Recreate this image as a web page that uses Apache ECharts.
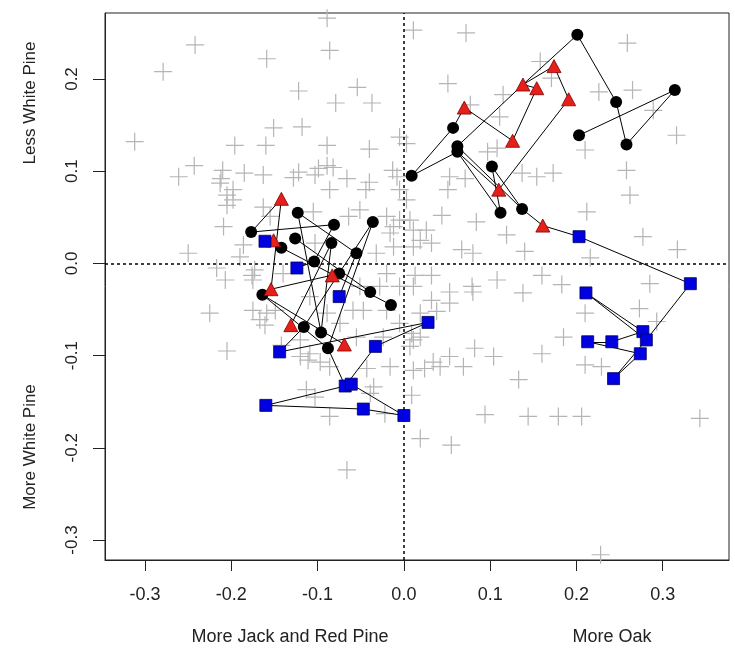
<!DOCTYPE html>
<html>
<head>
<meta charset="utf-8">
<script src="https://cdn.jsdelivr.net/npm/echarts@6/dist/echarts.min.js"></script>
<style>html,body{margin:0;padding:0;background:#fff}#chart{width:735px;height:650px}</style>
</head>
<body>
<div id="chart"></div>
<script>
// tick values
const xTicks = [-0.3, -0.2, -0.1, 0, 0.1, 0.2, 0.3];
const yTicks = [-0.3, -0.2, -0.1, 0, 0.1, 0.2];

// grey background plots
const crossPts = [
  [-0.089,0.266],[-0.242,0.237],[-0.159,0.222],[-0.086,0.231],[-0.279,0.208],[-0.122,0.187],
  [-0.054,0.191],[-0.079,0.174],[-0.037,0.174],[-0.151,0.147],[-0.118,0.148],[-0.312,0.132],
  [-0.196,0.128],[-0.160,0.128],[-0.089,0.128],[-0.040,0.124],[-0.005,0.137],[-0.243,0.106],
  [-0.261,0.094],[-0.210,0.101],[-0.212,0.092],[-0.185,0.098],[-0.163,0.096],[-0.122,0.099],
  [-0.128,0.093],[-0.099,0.103],[-0.089,0.106],[-0.082,0.104],[-0.103,0.096],[-0.066,0.092],
  [-0.040,0.088],[-0.013,0.101],[-0.008,0.094],[-0.086,0.080],[-0.044,0.080],[-0.005,0.080],
  [-0.198,0.069],[-0.205,0.063],[-0.209,0.040],[-0.163,0.061],[-0.155,0.051],[-0.105,0.056],
  [-0.064,0.051],[-0.051,0.058],[-0.020,0.051],[-0.005,0.047],[-0.186,0.020],[-0.250,0.011],
  [-0.217,-0.005],[-0.173,-0.007],[-0.016,0.033],[-0.012,0.018],[-0.032,0.011],[-0.103,0.022],
  [0.011,0.253],[0.072,0.250],[0.259,0.239],[0.158,0.219],[0.051,0.195],[0.115,0.183],
  [0.171,0.201],[0.226,0.186],[0.265,0.188],[0.289,0.166],[0.077,0.172],[0.316,0.139],
  [0.111,0.159],[0.003,0.130],[0.108,0.125],[0.210,0.123],[0.097,0.121],[0.258,0.101],
  [0.053,0.094],[0.071,0.092],[0.051,0.080],[0.137,0.098],[0.154,0.094],[0.173,0.098],
  [0.262,0.074],[0.044,0.052],[0.084,0.045],[0.212,0.056],[0.119,0.031],[0.007,0.047],
  [0.019,0.025],[0.026,0.036],[0.032,0.022],[0.011,0.018],[0.067,0.015],[0.080,0.011],
  [0.140,0.013],[0.216,0.006],[0.277,0.029],[0.317,0.015],[0.013,-0.013],[0.032,-0.013],
  [0.053,-0.031],[0.079,-0.025],[0.080,-0.031],[0.108,-0.018],[0.138,-0.032],[0.160,-0.013],
  [0.183,-0.023],[0.285,-0.022],[0.032,-0.040],[0.053,-0.043],[0.038,-0.052],[0.019,-0.054],
  [0.210,-0.054],[0.273,-0.049],[0.293,-0.063],[0.011,-0.083],[0.007,-0.090],[0.185,-0.080],
  [0.082,-0.092],[0.104,-0.101],[0.160,-0.098],[0.053,-0.101],[0.034,-0.107],[0.042,-0.112],
  [0.011,-0.116],[0.024,-0.114],[0.069,-0.112],[0.210,-0.110],[0.229,-0.112],[0.133,-0.126],
  [0.009,-0.143],[0.094,-0.164],[0.144,-0.166],[0.179,-0.166],[0.206,-0.166],[0.343,-0.168],
  [0.019,-0.190],[0.055,-0.197],[0.228,-0.316],[-0.207,-0.018],[-0.225,-0.054],[-0.205,-0.095],
  [-0.176,-0.013],[-0.175,-0.051],[-0.159,-0.054],[-0.161,-0.067],[-0.142,-0.089],[-0.120,-0.101],
  [-0.111,-0.105],[-0.097,-0.107],[-0.086,-0.112],[-0.113,-0.137],[-0.103,-0.145],[-0.086,-0.166],
  [-0.035,-0.134],[-0.022,-0.163],[-0.043,-0.114],[-0.016,-0.112],[-0.059,-0.051],[-0.047,-0.051],
  [-0.074,-0.065],[0.009,-0.076],[-0.039,-0.141],[-0.120,-0.083],[-0.149,-0.051],[-0.089,-0.054],
  [-0.024,-0.080],[-0.066,-0.224],[-0.213,0.087],[-0.198,0.080],[-0.205,0.074],[-0.012,0.040],
  [0.011,0.036],[-0.190,0.007],[-0.175,-0.018],[0.003,0.069],[-0.020,-0.011],[-0.051,-0.025],
  [-0.028,-0.025],[-0.005,-0.025],[0.011,-0.025],[-0.020,-0.051],[-0.005,-0.065],[0.019,-0.080],
  [-0.167,-0.061],[-0.055,-0.080],[-0.109,-0.098],[-0.140,-0.011],[-0.109,-0.036]
];

// trajectory points by symbol
const blackPts = [
  [0.009,0.095],[0.057,0.147],[0.201,0.248],[0.062,0.121],[0.062,0.127],[0.102,0.105],
  [0.112,0.055],[0.137,0.059],[0.246,0.175],[0.258,0.129],[0.314,0.188],[0.203,0.139],
  [-0.123,0.055],[-0.177,0.034],[-0.081,0.042],[-0.036,0.045],[-0.142,0.017],[-0.126,0.027],
  [-0.084,0.022],[-0.055,0.011],[-0.104,0.002],[-0.075,-0.011],[-0.164,-0.034],[-0.039,-0.031],
  [-0.015,-0.045],[-0.116,-0.069],[-0.096,-0.075],[-0.088,-0.092]
];
const redPts = [
  [0.070,0.169],[0.126,0.133],[0.154,0.190],[0.138,0.194],[0.174,0.214],[0.191,0.178],
  [0.110,0.080],[0.161,0.041],[-0.142,0.070],[-0.151,0.025],[-0.083,-0.013],[-0.154,-0.028],
  [-0.131,-0.067],[-0.069,-0.088]
];
const bluePts = [
  [0.203,0.029],[0.332,-0.022],[0.211,-0.032],[0.277,-0.074],[0.281,-0.083],[0.213,-0.085],
  [0.241,-0.085],[0.274,-0.098],[0.243,-0.125],[0.028,-0.064],[0.000,-0.165],[-0.161,0.024],
  [-0.124,-0.005],[-0.075,-0.036],[-0.033,-0.090],[-0.144,-0.096],[-0.068,-0.133],[-0.061,-0.131],
  [-0.160,-0.154],[-0.047,-0.158]
];

// connecting segments (k = black, r = red, b = blue)
const segments = [
  ['k11','k10'],['k10','k9'],['k9','k8'],['k8','k2'],['k2','r3'],['r3','k4'],['k3','k0'],
  ['k0','k1'],['k1','r0'],['r0','r1'],['r1','r2'],['r2','r3'],['r3','r4'],['r4','r5'],
  ['r5','r6'],['r6','k3'],['k3','k6'],['k6','k5'],['k5','k7'],['k4','k7'],['k7','r7'],
  ['r7','b0'],['b0','b1'],['b1','b4'],['b4','b2'],['b2','b3'],['b3','b6'],['b6','b5'],
  ['b5','b7'],['b7','b8'],['b8','b4'],
  ['k14','k13'],['k13','r8'],['r8','r11'],['r11','k21'],['k22','k27'],['k22','r13'],
  ['k16','k24'],['k17','k23'],['k12','k19'],['k12','k26'],['k15','k27'],['k15','k25'],
  ['k14','k20'],['k18','k26'],['r12','k18'],['k25','b15'],['b12','k20'],['b13','k19'],
  ['b15','b9'],['b14','b9'],['b14','b16'],['b16','b18'],['b18','b19'],['b19','b10'],
  ['b17','b10'],['k27','b16']
];

function pt(ref) {
  const set = { k: blackPts, r: redPts, b: bluePts }[ref[0]];
  return set[+ref.slice(1)];
}

const chart = echarts.init(document.getElementById('chart'));
const fontFam = 'Liberation Sans, Arial, sans-serif';

chart.setOption({
  animation: false,
  grid: {
    left: 105, right: 6, top: 13, bottom: 90,
    show: true, borderColor: '#222', borderWidth: 1,
    containLabel: false
  },
  xAxis: {
    type: 'value', min: -0.3464, max: 0.3768,
    axisLine: { show: true, onZero: false, lineStyle: { color: '#222' } },
    axisTick: { show: true, length: 11, customValues: xTicks, lineStyle: { color: '#222' } },
    axisLabel: { customValues: xTicks, formatter: v => v.toFixed(1), margin: 26,
      fontSize: 18, color: '#222', fontFamily: fontFam },
    splitLine: { show: false }
  },
  yAxis: {
    type: 'value', min: -0.3217, max: 0.2716,
    axisLine: { show: true, onZero: false, lineStyle: { color: '#222' } },
    axisTick: { show: true, length: 12, customValues: yTicks, lineStyle: { color: '#222' } },
    axisLabel: { customValues: yTicks, formatter: v => v.toFixed(1), margin: 24, rotate: 90,
      fontSize: 17, color: '#222', fontFamily: fontFam },
    splitLine: { show: false }
  },
  graphic: [
    { type: 'text', x: 30, y: 103, rotation: Math.PI / 2,
      style: { text: 'Less White Pine', textAlign: 'center', textVerticalAlign: 'middle',
        font: '17px ' + fontFam, fill: '#222' } },
    { type: 'text', x: 30, y: 447, rotation: Math.PI / 2,
      style: { text: 'More White Pine', textAlign: 'center', textVerticalAlign: 'middle',
        font: '17px ' + fontFam, fill: '#222' } },
    { type: 'text', x: 290, y: 637,
      style: { text: 'More Jack and Red Pine', textAlign: 'center', textVerticalAlign: 'middle',
        font: '18px ' + fontFam, fill: '#222' } },
    { type: 'text', x: 612, y: 637,
      style: { text: 'More Oak', textAlign: 'center', textVerticalAlign: 'middle',
        font: '18px ' + fontFam, fill: '#222' } }
  ],
  series: [
    {
      type: 'scatter', silent: true, z: 1,
      symbol: 'path://M0,5L10,5M5,0L5,10', symbolSize: 18,
      itemStyle: { color: 'none', borderColor: '#b5b5b5', borderWidth: 1.2, opacity: 1 },
      data: crossPts,
      markLine: {
        silent: true, symbol: 'none', label: { show: false },
        lineStyle: { color: '#000', type: [3, 3], width: 1.5 },
        data: [{ xAxis: 0 }, { yAxis: 0 }]
      }
    },
    {
      type: 'lines', coordinateSystem: 'cartesian2d', silent: true, z: 3,
      lineStyle: { color: '#000', width: 1, opacity: 1 },
      data: segments.map(s => ({ coords: [pt(s[0]), pt(s[1])] }))
    },
    {
      type: 'scatter', silent: true, z: 4, symbol: 'circle', symbolSize: 12,
      itemStyle: { color: '#000', opacity: 1 }, data: blackPts
    },
    {
      type: 'scatter', silent: true, z: 5, symbol: 'triangle', symbolSize: [14, 13],
      itemStyle: { color: '#e5201a', borderColor: '#800000', borderWidth: 0.8, opacity: 1 },
      data: redPts
    },
    {
      type: 'scatter', silent: true, z: 6, symbol: 'rect', symbolSize: 12,
      itemStyle: { color: '#0000e0', borderColor: '#000060', borderWidth: 0.8, opacity: 1 },
      data: bluePts
    }
  ]
});
</script>
</body>
</html>
